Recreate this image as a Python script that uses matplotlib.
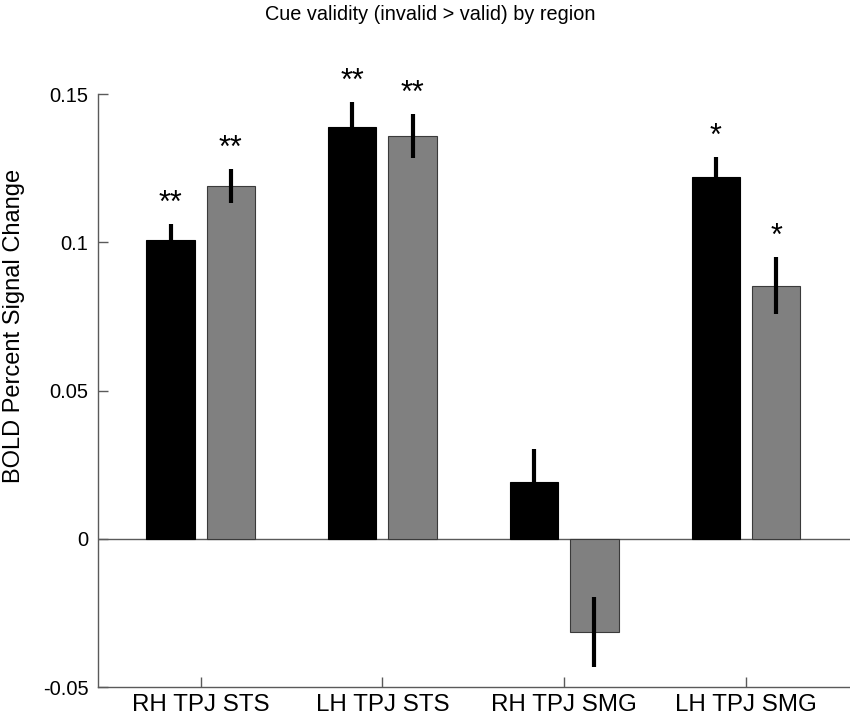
import numpy as np
import matplotlib
matplotlib.use('Agg')
import matplotlib.pyplot as plt

plt.rcParams['font.family'] = ['Liberation Sans', 'DejaVu Sans']

# data
regions = ['RH TPJ STS', 'LH TPJ STS', 'RH TPJ SMG', 'LH TPJ SMG']
black_vals = [0.1007, 0.1388, 0.0193, 0.1220]
black_err = [0.0053, 0.0084, 0.0110, 0.0067]
gray_vals = [0.1190, 0.1358, -0.0315, 0.0854]
gray_err = [0.0058, 0.0075, 0.0118, 0.0095]
black_stars = ['**', '**', '', '*']
gray_stars = ['**', '**', '', '*']

x = np.arange(1, len(regions) + 1)
w = 0.266
off = 0.166
axcol = '#5a5a5a'

fig = plt.figure(figsize=(8.5, 7.24), dpi=100)
ax = fig.add_axes([0.1153, 0.0511, 0.8847, 0.819])

ax.axhline(0, color=axcol, lw=1, zorder=1)
ax.bar(x - off, black_vals, w, color='black', edgecolor='black', lw=0.8, zorder=2)
ax.bar(x + off, gray_vals, w, color='#808080', edgecolor='#3a3a3a', lw=0.8, zorder=2)
ax.errorbar(x - off, black_vals, yerr=black_err, fmt='none', ecolor='black', elinewidth=3, capsize=0, zorder=3)
ax.errorbar(x + off, gray_vals, yerr=gray_err, fmt='none', ecolor='black', elinewidth=3, capsize=0, zorder=3)

# significance stars
for xi, v, e, s in zip(x - off, black_vals, black_err, black_stars):
    if s:
        ax.text(xi, v + e + 0.0068, s, ha='center', va='center', fontsize=22, clip_on=False)
for xi, v, e, s in zip(x + off, gray_vals, gray_err, gray_stars):
    if s:
        ax.text(xi, v + e + 0.0068, s, ha='center', va='center', fontsize=22, clip_on=False)

ax.set_xlim(0.435, 4.572)
ax.set_ylim(-0.05, 0.15)
ax.set_yticks([-0.05, 0, 0.05, 0.1, 0.15])
ax.set_yticklabels(['-0.05', '0', '0.05', '0.1', '0.15'])
ax.set_xticks(x)
ax.set_xticklabels(regions)
ax.tick_params(axis='both', direction='in', length=7, width=1, color=axcol)
ax.tick_params(axis='y', labelsize=14.5, pad=7)
ax.tick_params(axis='x', labelsize=17.4, pad=5)

for side in ['top', 'right']:
    ax.spines[side].set_visible(False)
for side in ['left', 'bottom']:
    ax.spines[side].set_color(axcol)
    ax.spines[side].set_linewidth(1)

ax.set_ylabel('BOLD Percent Signal Change', fontsize=17)
ax.yaxis.set_label_coords(-0.097, 0.609)
fig.text(430 / 850, 1 - 15 / 724, 'Cue validity (invalid > valid) by region',
         ha='center', va='center', fontsize=14.3)

fig.savefig('out.png', dpi=100)
